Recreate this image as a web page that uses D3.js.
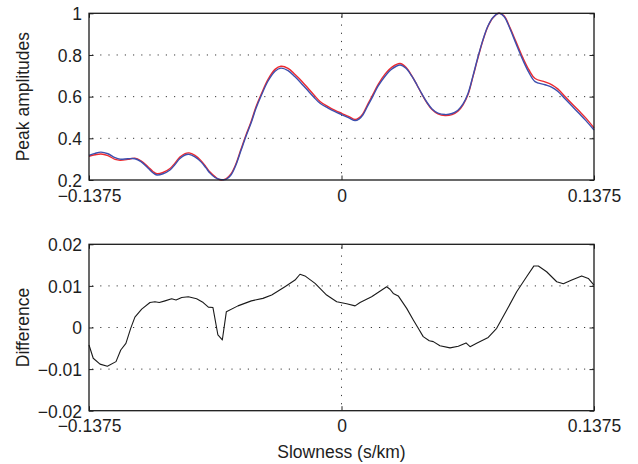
<!DOCTYPE html>
<html>
<head>
<meta charset="utf-8">
<script src="https://cdn.jsdelivr.net/npm/d3@7"></script>
<style>
  html, body { margin: 0; padding: 0; background: #fff; }
  svg { display: block; }
  text { font-family: "Liberation Sans", Arial, Helvetica, sans-serif; fill: #1e1e1e; }
</style>
</head>
<body>
<svg id="chart" width="638" height="464"></svg>
<script>
// Slowness samples (s/km) and normalised peak amplitudes for the two beams
const slowness = [
  -0.1375, -0.1342, -0.1310, -0.1272, -0.1233, -0.1206, -0.1163, -0.1125, -0.1092, -0.1054,
  -0.1027, -0.1005, -0.0972, -0.0934, -0.0907, -0.0880, -0.0852, -0.0830, -0.0798, -0.0765,
  -0.0738, -0.0716, -0.0689, -0.0662, -0.0629, -0.0602, -0.0575, -0.0548, -0.0520, -0.0493,
  -0.0466, -0.0438, -0.0400, -0.0362, -0.0330, -0.0291, -0.0253, -0.0215, -0.0182, -0.0150,
  -0.0117, -0.0073, -0.0035, 0.0003, 0.0041, 0.0074, 0.0095, 0.0117, 0.0144, 0.0172,
  0.0199, 0.0237, 0.0275, 0.0319, 0.0351, 0.0384, 0.0411, 0.0438, 0.0466, 0.0493,
  0.0525, 0.0564, 0.0602, 0.0634, 0.0662, 0.0689, 0.0716, 0.0743, 0.0771, 0.0798,
  0.0825, 0.0858, 0.0885, 0.0918, 0.0950, 0.0988, 0.1021, 0.1054, 0.1108, 0.1146,
  0.1179, 0.1217, 0.1255, 0.1293, 0.1331, 0.1375
];
const ampBlue = [
  0.318, 0.328, 0.334, 0.326, 0.307, 0.300, 0.302, 0.302, 0.288, 0.258,
  0.235, 0.224, 0.230, 0.248, 0.274, 0.303, 0.320, 0.323, 0.311, 0.287,
  0.258, 0.233, 0.212, 0.203, 0.203, 0.224, 0.272, 0.340, 0.410, 0.472,
  0.543, 0.603, 0.675, 0.722, 0.737, 0.725, 0.695, 0.660, 0.628, 0.597,
  0.568, 0.545, 0.528, 0.513, 0.498, 0.485, 0.492, 0.513, 0.558, 0.604,
  0.650, 0.698, 0.733, 0.752, 0.736, 0.697, 0.656, 0.613, 0.572, 0.541,
  0.521, 0.514, 0.519, 0.535, 0.565, 0.615, 0.700, 0.790, 0.875, 0.940,
  0.980, 1.000, 0.985, 0.925, 0.855, 0.775, 0.715, 0.672, 0.657, 0.645,
  0.625, 0.590, 0.555, 0.520, 0.485, 0.440
];
const ampRed = [
  0.314, 0.321, 0.325, 0.317, 0.299, 0.295, 0.299, 0.305, 0.292, 0.264,
  0.241, 0.230, 0.236, 0.255, 0.281, 0.310, 0.327, 0.330, 0.318, 0.293,
  0.263, 0.238, 0.216, 0.201, 0.206, 0.229, 0.277, 0.346, 0.416, 0.478,
  0.550, 0.610, 0.683, 0.731, 0.746, 0.736, 0.706, 0.673, 0.640, 0.608,
  0.577, 0.552, 0.534, 0.519, 0.504, 0.490, 0.498, 0.519, 0.565, 0.612,
  0.658, 0.708, 0.742, 0.759, 0.741, 0.699, 0.656, 0.611, 0.569, 0.538,
  0.517, 0.509, 0.514, 0.530, 0.561, 0.610, 0.696, 0.786, 0.872, 0.938,
  0.979, 1.000, 0.988, 0.930, 0.864, 0.786, 0.728, 0.687, 0.671, 0.657,
  0.636, 0.601, 0.566, 0.532, 0.497, 0.450
];

// Difference between the two amplitude curves
const diffSlowness = [
  -0.1375, -0.1352, -0.1315, -0.1275, -0.1228, -0.1202, -0.1174, -0.1148, -0.1125, -0.1088,
  -0.1043, -0.1016, -0.0992, -0.0961, -0.0925, -0.0901, -0.0870, -0.0834, -0.0789, -0.0753,
  -0.0725, -0.0700, -0.0673, -0.0649, -0.0627, -0.0564, -0.0491, -0.0428, -0.0380, -0.0308,
  -0.0253, -0.0226, -0.0199, -0.0144, -0.0081, -0.0026, 0.0028, 0.0074, 0.0101, 0.0164,
  0.0246, 0.0264, 0.0282, 0.0309, 0.0355, 0.0391, 0.0418, 0.0445, 0.0478, 0.0500,
  0.0536, 0.0591, 0.0636, 0.0678, 0.0700, 0.0736, 0.0799, 0.0845, 0.0900, 0.0954,
  0.1008, 0.1048, 0.1072, 0.1117, 0.1172, 0.1208, 0.1254, 0.1308, 0.1344, 0.1375
];
const diffValues = [
  -0.0042, -0.0074, -0.0088, -0.0093, -0.0082, -0.0054, -0.0038, -0.0002, 0.0025, 0.0044,
  0.0060, 0.0062, 0.0060, 0.0064, 0.0069, 0.0066, 0.0072, 0.0074, 0.0069, 0.0060,
  0.0049, 0.0048, -0.0018, -0.0030, 0.0038, 0.0052, 0.0064, 0.0070, 0.0078, 0.0098,
  0.0114, 0.0128, 0.0124, 0.0106, 0.0078, 0.0062, 0.0057, 0.0052, 0.0060, 0.0074,
  0.0098, 0.0092, 0.0082, 0.0076, 0.0046, 0.0018, -0.0002, -0.0022, -0.0032, -0.0034,
  -0.0044, -0.0049, -0.0045, -0.0037, -0.0046, -0.0038, -0.0024, -0.0002, 0.0042, 0.0086,
  0.0122, 0.0148, 0.0148, 0.0134, 0.0110, 0.0105, 0.0114, 0.0124, 0.0118, 0.0102
];

// Axis ticks and labels
const xTicks = [-0.1375, 0, 0.1375];
const xTickLabels = ["\u22120.1375", "0", "0.1375"];
const ampTicks = [0.2, 0.4, 0.6, 0.8, 1];
const ampTickLabels = ["0.2", "0.4", "0.6", "0.8", "1"];
const diffTicks = [-0.02, -0.01, 0, 0.01, 0.02];
const diffTickLabels = ["\u22120.02", "\u22120.01", "0", "0.01", "0.02"];

const svg = d3.select("#chart");
const left = 89, right = 594;
const fontSize = 17.5;

const x = d3.scaleLinear().domain([-0.1375, 0.1375]).range([left, right]);

function drawPanel(cfg) {
  const { top, bottom, yDomain, yTicks, yLabels, yTitle } = cfg;
  const y = d3.scaleLinear().domain(yDomain).range([bottom, top]);
  const g = svg.append("g");

  // dotted grid
  const grid = g.append("g").attr("stroke", "#3a3a3a").attr("stroke-width", 1)
    .attr("stroke-dasharray", "1.2,7").attr("fill", "none");
  yTicks.filter(t => t > yDomain[0] && t < yDomain[1]).forEach(t => {
    grid.append("line").attr("x1", left).attr("x2", right)
      .attr("y1", y(t)).attr("y2", y(t)).attr("stroke-dashoffset", -3);
  });
  xTicks.filter(t => t > x.domain()[0] && t < x.domain()[1]).forEach(t => {
    grid.append("line").attr("x1", x(t)).attr("x2", x(t))
      .attr("y1", top).attr("y2", bottom).attr("stroke-dashoffset", -3);
  });

  // inward ticks on all four sides
  const tickLen = 4.5;
  const axL = g.append("g").attr("transform", `translate(${left},0)`)
    .call(d3.axisLeft(y).tickValues(yTicks).tickSize(-tickLen).tickFormat(""));
  const axR = g.append("g").attr("transform", `translate(${right},0)`)
    .call(d3.axisRight(y).tickValues(yTicks).tickSize(-tickLen).tickFormat(""));
  const axB = g.append("g").attr("transform", `translate(0,${bottom})`)
    .call(d3.axisBottom(x).tickValues(xTicks).tickSize(-tickLen).tickFormat(""));
  const axT = g.append("g").attr("transform", `translate(0,${top})`)
    .call(d3.axisTop(x).tickValues(xTicks).tickSize(-tickLen).tickFormat(""));
  [axL, axR, axB, axT].forEach(a => {
    a.select(".domain").remove();
    a.selectAll("line").attr("stroke", "#222").attr("stroke-width", 1);
  });

  // tick labels
  const labL = g.append("g").attr("transform", `translate(${left},0)`)
    .call(d3.axisLeft(y).tickValues(yTicks).tickSize(0).tickPadding(7)
      .tickFormat((d, i) => yLabels[i]));
  const labB = g.append("g").attr("transform", `translate(0,${bottom})`)
    .call(d3.axisBottom(x).tickValues(xTicks).tickSize(0).tickPadding(9)
      .tickFormat((d, i) => xTickLabels[i]));
  [labL, labB].forEach(a => {
    a.select(".domain").remove();
    a.selectAll("text").attr("font-size", fontSize)
      .attr("font-family", '"Liberation Sans", Arial, sans-serif').attr("fill", "#1e1e1e");
  });
  labL.selectAll("text").attr("dy", "0.36em");
  labB.selectAll("text").attr("dy", "0.72em");

  // y title
  g.append("text")
    .attr("transform", `translate(29,${(top + bottom) / 2}) rotate(-90)`)
    .attr("text-anchor", "middle")
    .attr("font-size", fontSize)
    .text(yTitle);

  return { g, y };
}

// upper panel: peak amplitudes
const p1 = drawPanel({
  top: 13.3, bottom: 180, yDomain: [0.2, 1],
  yTicks: ampTicks, yLabels: ampTickLabels, yTitle: "Peak amplitudes"
});
const ampLine = vals => d3.line()
  .x((d, i) => x(slowness[i]))
  .y((d, i) => p1.y(vals[i]))
  .curve(d3.curveCatmullRom.alpha(0.5))(slowness);

const plot1 = p1.g.append("g");
plot1.append("path").attr("d", ampLine(ampRed))
  .attr("fill", "none").attr("stroke", "#ec2a30").attr("stroke-width", 1.4);
plot1.append("path").attr("d", ampLine(ampBlue))
  .attr("fill", "none").attr("stroke", "#3d4fae").attr("stroke-width", 1.4);

// lower panel: difference
const p2 = drawPanel({
  top: 244.3, bottom: 410.7, yDomain: [-0.02, 0.02],
  yTicks: diffTicks, yLabels: diffTickLabels, yTitle: "Difference"
});
const diffLine = d3.line()
  .x((d, i) => x(diffSlowness[i]))
  .y((d, i) => p2.y(diffValues[i]));
p2.g.append("path").attr("d", diffLine(diffSlowness))
  .attr("fill", "none").attr("stroke", "#1a1a1a").attr("stroke-width", 1.1)
  .attr("stroke-linejoin", "round");

// frames drawn last so they sit above the curves
[[13.3, 180], [244.3, 410.7]].forEach(([t, b]) => {
  svg.append("rect").attr("x", left).attr("y", t)
    .attr("width", right - left).attr("height", b - t)
    .attr("fill", "none").attr("stroke", "#1a1a1a").attr("stroke-width", 1.3);
});

// x title
svg.append("text")
  .attr("x", (left + right) / 2).attr("y", 458)
  .attr("text-anchor", "middle")
  .attr("font-size", fontSize)
  .text("Slowness (s/km)");
</script>
</body>
</html>
